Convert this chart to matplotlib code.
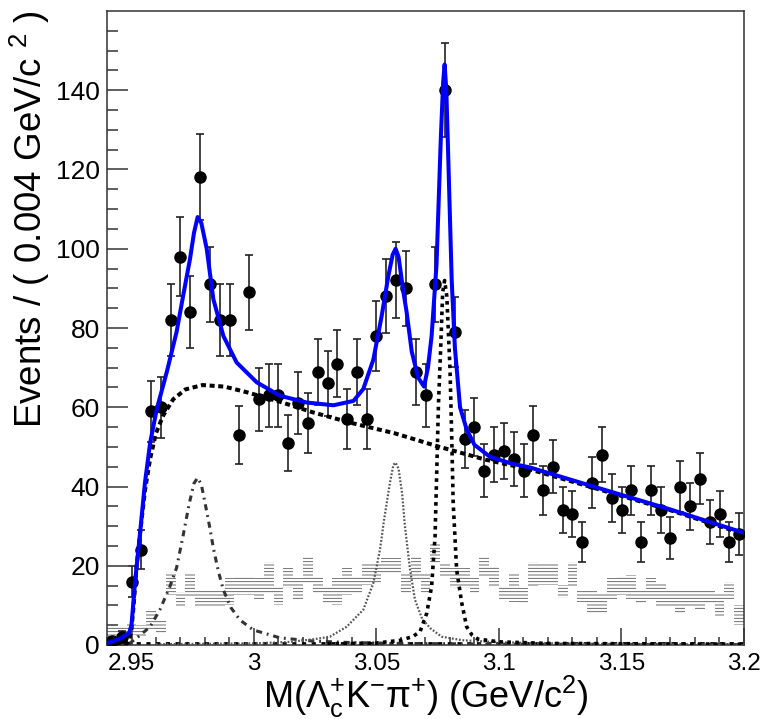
import numpy as np
import matplotlib
matplotlib.use("Agg")
import matplotlib.pyplot as plt

plt.rcParams["font.family"] = ["Liberation Sans", "DejaVu Sans"]
plt.rcParams["mathtext.fontset"] = "custom"
plt.rcParams["mathtext.rm"] = "Liberation Sans"
plt.rcParams["mathtext.it"] = "Liberation Sans:italic"
plt.rcParams["mathtext.bf"] = "Liberation Sans:bold"
plt.rcParams["hatch.linewidth"] = 0.6

# Histogram: M(Lambda_c K pi), 65 bins of 0.004 GeV/c2 from 2.94 to 3.20
x_lo, x_hi, n_bins = 2.94, 3.20, 65
counts = [1, 2, 16, 24, 59, 60, 82, 98, 84, 118, 91, 82, 82, 53, 89, 62, 63, 63, 51, 61,
          56, 69, 66, 71, 57, 69, 57, 78, 88, 92, 90, 69, 63, 91, 140, 79, 52, 55, 44, 48,
          49, 47, 44, 53, 39, 45, 34, 33, 26, 41, 48, 37, 34, 39, 26, 39, 34, 27, 40, 35,
          42, 31, 33, 26, 28]

# Grey hatched reference histogram (value and half height of each box)
side_val = [3, 3, 4, 3.5, 6.5, 4.5, 15.5, 11.5, 15, 12, 12, 12, 13.5, 15, 15, 14, 17, 12.5, 17, 14,
            19, 15, 12.5, 13.5, 16, 15, 18, 18, 20, 20, 15.5, 19.5, 15.5, 23, 19, 17, 17, 15, 20, 17.5,
            13, 14.5, 12.5, 18, 18, 18, 13.5, 18, 12.5, 11, 10.5, 14, 15, 14.5, 12, 14, 12.5, 12, 11, 12,
            11.5, 12, 10, 13.5, 7.5]
side_err = [1.5, 1.5, 1.5, 1.5, 2.5, 1.5, 3, 1.9, 2.8, 2.2, 2.2, 2.2, 3.5, 2.3, 2.5, 3, 4, 2.5, 2.5, 3,
            3.5, 2.2, 2.2, 3.5, 3.4, 2.2, 2.8, 2.5, 2, 2, 2.5, 2.8, 2.5, 2.5, 1.5, 2.5, 2.5, 2, 2.5, 2.5,
            1.8, 3.6, 2, 3, 2.8, 2.8, 1.7, 3, 1.7, 2.8, 2.3, 2.8, 2.5, 3.2, 1.7, 2.8, 3, 2.1, 2.8, 2.1,
            2.3, 1.7, 3, 2.5, 2.5]

# Fit curves, points
total_pts = [(2.9400, 0.5), (2.9450, 1.5), (2.9490, 3.0), (2.9500, 5.0), (2.9514, 15.6), (2.9535, 28.3),
             (2.9555, 41.0), (2.9576, 51.0), (2.9603, 59.5), (2.9644, 68.9), (2.9684, 79.0), (2.9711, 88.2),
             (2.9739, 97.5), (2.9755, 104.0), (2.9770, 108.0), (2.9785, 106.5), (2.9807, 100.0), (2.9834, 87.3),
             (2.9875, 78.0), (2.9929, 71.3), (3.0011, 66.3), (3.0106, 62.9), (3.0215, 61.2), (3.0324, 60.5),
             (3.0406, 61.6), (3.0446, 64.6), (3.0487, 72.0), (3.0521, 83.0), (3.0548, 93.0), (3.0566, 98.5),
             (3.0578, 100.0), (3.0590, 98.0), (3.0610, 89.0), (3.0623, 84.0), (3.0644, 74.0), (3.0670, 67.5),
             (3.0694, 65.2), (3.0710, 70.0), (3.0725, 78.0), (3.0745, 96.0), (3.0762, 127.0), (3.0772, 142.0),
             (3.0778, 146.5), (3.0785, 140.0), (3.0793, 122.8), (3.0807, 92.0), (3.0820, 75.0), (3.0841, 60.0),
             (3.0868, 54.4), (3.0900, 50.5), (3.0963, 47.5), (3.1050, 45.8), (3.1127, 44.8), (3.1385, 40.0),
             (3.1700, 34.2), (3.2000, 28.3)]
bkg_pts = [(2.9400, 0.3), (2.9480, 0.3), (2.9490, 1.0), (2.9500, 4.0), (2.9510, 11.0), (2.9521, 20.0),
           (2.9540, 31.0), (2.9555, 39.0), (2.9576, 47.0), (2.9600, 53.5), (2.9630, 58.0), (2.9670, 62.0),
           (2.9720, 64.5), (2.9790, 65.6), (2.9880, 65.2), (2.9970, 63.8), (3.0100, 61.5), (3.0241, 58.7),
           (3.0400, 56.0), (3.0576, 53.4), (3.0746, 50.2), (3.0943, 46.8), (3.1127, 44.3), (3.1385, 39.7),
           (3.1700, 34.0), (3.2000, 28.0)]
peak1_pts = [(2.9490, 0.3), (2.9528, 2.1), (2.9576, 4.6), (2.9616, 8.9), (2.9657, 14.8), (2.9684, 19.5),
             (2.9710, 27.4), (2.9735, 35.5), (2.9755, 40.8), (2.9770, 42.2), (2.9785, 40.5), (2.9800, 35.9),
             (2.9820, 29.5), (2.9834, 24.5), (2.9855, 18.5), (2.9875, 13.9), (2.9905, 9.5), (2.9943, 6.3),
             (2.9997, 3.8), (3.0106, 1.8), (3.0240, 1.0), (3.0400, 0.6), (3.0600, 0.4), (3.1000, 0.2),
             (3.2000, 0.1)]
peak2_pts = [(2.9600, 0.2), (3.0000, 0.4), (3.0150, 0.8), (3.0250, 1.5), (3.0310, 2.1), (3.0378, 4.6),
             (3.0446, 8.9), (3.0487, 15.6), (3.0514, 24.0), (3.0531, 31.6), (3.0555, 41.0), (3.0569, 45.5),
             (3.0578, 46.0), (3.0590, 44.5), (3.0605, 38.0), (3.0616, 30.0), (3.0637, 19.0), (3.0657, 11.4),
             (3.0687, 6.5), (3.0720, 4.2), (3.0766, 2.1), (3.0850, 1.2), (3.1000, 0.7), (3.1300, 0.3),
             (3.2000, 0.1)]
peak3_pts = [(3.0300, 0.3), (3.0500, 0.5), (3.0600, 1.2), (3.0650, 2.2), (3.0678, 3.4), (3.0705, 8.0),
             (3.0725, 14.8), (3.0739, 27.4), (3.0746, 44.0), (3.0753, 61.0), (3.0762, 75.0), (3.0770, 89.0),
             (3.0778, 92.0), (3.0787, 88.0), (3.0800, 69.6), (3.0807, 52.7), (3.0813, 35.9), (3.0827, 19.0),
             (3.0848, 10.6), (3.0868, 4.6), (3.0890, 2.5), (3.0914, 1.5), (3.1000, 0.8), (3.1200, 0.4),
             (3.2000, 0.2)]
flat_level = 0.4

edges = np.linspace(x_lo, x_hi, n_bins + 1)
centers = 0.5 * (edges[:-1] + edges[1:])
width = edges[1] - edges[0]
counts = np.array(counts, dtype=float)
side_val = np.array(side_val)
side_err = np.array(side_err)

fig = plt.figure(figsize=(7.65, 7.19), dpi=100)
ax = fig.add_axes([107 / 765, 1 - 645 / 719, (744 - 107) / 765, (645 - 11) / 719])

# hatched boxes
ax.bar(centers, 2 * side_err, bottom=side_val - side_err, width=width, color="none",
       edgecolor="#555555", hatch="-----", linewidth=0, zorder=1)

# data
ax.errorbar(centers, counts, yerr=np.sqrt(counts), fmt="o", color="black", ecolor="#222222",
            markersize=8, elinewidth=1.2, capsize=3.2, capthick=1.2, zorder=3)

# fit components
ax.plot([x_lo, x_hi], [flat_level, flat_level], color="black", lw=2.0,
        linestyle=(0, (1.5, 2.0)), zorder=2)
for pts, kw in [
    (peak1_pts, dict(color="#333333", lw=2.2, linestyle=(0, (2.0, 1.6, 0.6, 1.6)))),
    (peak2_pts, dict(color="#555555", lw=1.6, linestyle=(0, (0.8, 0.8)))),
    (peak3_pts, dict(color="black", lw=2.6, linestyle=(0, (1.0, 1.2)))),
    (bkg_pts, dict(color="black", lw=2.9, linestyle=(0, (1.25, 0.9)))),
]:
    px, py = zip(*pts)
    ax.plot(px, py, zorder=4, **kw)

tx, ty = zip(*total_pts)
ax.plot(tx, ty, color="#0000ff", lw=2.9, zorder=5, solid_joinstyle="round")

ax.set_xlim(x_lo, x_hi)
ax.set_ylim(0, 160)
ax.set_xticks([2.95, 3.0, 3.05, 3.1, 3.15, 3.2])
ax.set_xticklabels(["2.95", "3", "3.05", "3.1", "3.15", "3.2"])
ax.set_xticks(np.arange(2.94, 3.2001, 0.01), minor=True)
ax.set_yticks(np.arange(0, 141, 20))
ax.set_yticks(np.arange(0, 160, 5), minor=True)
ax.tick_params(axis="both", which="both", direction="in", top=False, right=False,
               color="#333333", width=1.1)
ax.tick_params(axis="x", which="major", length=12, pad=6, labelsize=17.5)
ax.tick_params(axis="x", which="minor", length=5.5)
ax.tick_params(axis="y", which="major", length=15, pad=5, labelsize=19)
ax.tick_params(axis="y", which="minor", length=7.7)
for s in ax.spines.values():
    s.set_linewidth(1.1)
    s.set_color("#333333")

fig.text(426 / 765, 11 / 719, r"M($\mathrm{\Lambda_{c}^{+}K^{-}\pi^{+}}$) (GeV/c$^{2}$)",
         ha="center", va="baseline", fontsize=26)
fig.text(30 / 765, 1 - 10 / 719, "Events / ( 0.004 GeV/c $^{2}$ )", rotation=90,
         ha="center", va="top", fontsize=26.5)

fig.savefig("out.png", dpi=100)
